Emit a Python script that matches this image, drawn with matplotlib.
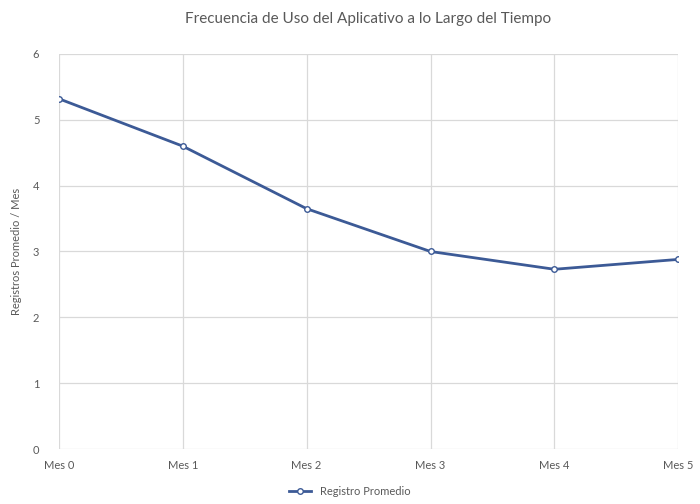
import matplotlib
matplotlib.use("Agg")
import matplotlib.pyplot as plt

# Datos
meses = ["Mes 0", "Mes 1", "Mes 2", "Mes 3", "Mes 4", "Mes 5"]
registros = [5.32, 4.6, 3.65, 3.0, 2.73, 2.88]

plt.rcParams["font.family"] = ["Lato", "DejaVu Sans"]

fig = plt.figure(figsize=(7, 5.04), dpi=100)
ax = fig.add_axes([0.084, 0.109, 0.885, 0.784])

x = list(range(len(meses)))
ax.plot(x, registros, color="#3C5A96", linewidth=2.0, marker="o", markersize=4,
        markerfacecolor="white", markeredgecolor="#3C5A96", markeredgewidth=1,
        label="Registro Promedio")

ax.set_xlim(0, len(meses) - 1)
ax.set_ylim(0, 6)
ax.set_xticks(x)
ax.set_xticklabels(meses)
ax.set_yticks(range(0, 7))

ax.grid(True, color="#D9D9D9", linewidth=0.9)
ax.set_axisbelow(True)
for s in ax.spines.values():
    s.set_visible(False)
ax.tick_params(length=0, labelsize=8, colors="#595959", pad=8)
ax.tick_params(axis="y", pad=14)

ax.set_ylabel("Registros Promedio / Mes", fontsize=8, color="#595959", labelpad=8)
ax.set_title("Frecuencia de Uso del Aplicativo a lo Largo del Tiempo",
             fontsize=11, color="#595959", pad=22)

fig.legend(loc="lower center", bbox_to_anchor=(0.5, -0.005), frameon=False,
           fontsize=8, labelcolor="#595959", handlelength=2)

fig.savefig("out.png", dpi=100)
